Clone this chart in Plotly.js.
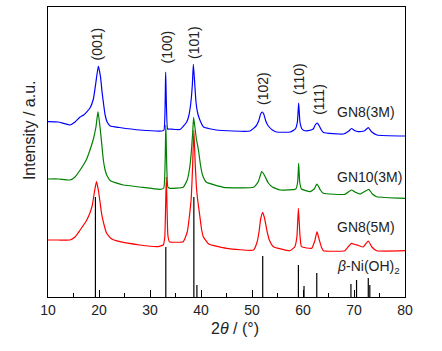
<!DOCTYPE html>
<html>
<head>
<meta charset="utf-8">
<script src="https://cdn.plot.ly/plotly-3.0.1.min.js"></script>
<style>html,body{margin:0;padding:0;background:#fff;}#chart{width:442px;height:351px;}</style>
</head>
<body>
<div id="chart"></div>
<script>
// GN8(3M) - blue (offset intensity, a.u.)
const blueX = [10, 12, 14.3, 15.3, 16.3, 17.0, 18.2, 18.9, 19.4, 19.87, 20.3, 20.6, 20.9, 21.2, 21.6, 22.2, 24, 28, 32.3, 32.75, 33.07, 33.45, 33.8, 35.9, 37.2, 37.6, 38.0, 38.3, 38.5, 38.75, 39.0, 39.3, 39.7, 40.5, 43, 49.6, 50.8, 51.3, 51.7, 52.0, 52.3, 52.7, 53.2, 54.0, 54.8, 57.5, 58.5, 58.9, 59.15, 59.4, 59.8, 60.2, 61.0, 62.0, 62.4, 62.8, 63.2, 63.6, 64.0, 67.9, 69.0, 69.5, 70.1, 70.8, 72.0, 72.8, 73.5, 74.5, 80];
const blueY = [175.3, 175, 172, 175, 180, 182, 188.7, 198, 215, 231, 220, 205, 193, 182, 175, 171, 169.5, 167, 166, 167, 225, 168, 168, 167.5, 175, 181, 194, 212, 232.7, 215, 196, 185, 178, 170, 167, 166, 171, 176, 183, 185, 183, 176, 171, 167, 165, 165, 168, 175, 194, 175, 168, 166.5, 166.3, 168, 172, 174, 171, 167, 164.5, 163, 166, 168.5, 166.5, 165.3, 166, 169.3, 165, 162, 161];

// GN10(3M) - green
const greenX = [10, 12, 14.3, 15.3, 16.3, 17.5, 18.3, 18.9, 19.4, 19.8, 20.2, 20.5, 20.85, 21.2, 21.6, 22.3, 24.8, 28, 32, 32.7, 33.1, 33.5, 33.9, 36.5, 37.3, 37.8, 38.1, 38.35, 38.55, 38.8, 39.1, 39.5, 39.9, 40.3, 41.0, 44.4, 50.3, 51.2, 51.6, 51.9, 52.3, 52.7, 53.2, 54, 55.5, 58.6, 58.95, 59.15, 59.35, 59.7, 61.4, 62.2, 62.5, 62.7, 63.0, 63.4, 64, 68.2, 69.5, 70.2, 71.2, 72.9, 73.6, 74.45, 80];
const greenY = [118, 118, 117, 120, 127, 137, 148, 158, 170, 185.3, 170, 155, 137, 127, 121, 116, 112, 110, 107.7, 109, 172, 110, 108.7, 109.7, 117, 130, 145, 163, 179.7, 170, 158, 147, 132, 122, 115, 109.7, 109.7, 115, 121, 125.3, 123, 119, 114, 110, 107, 108, 115, 133.7, 115, 108, 105.3, 108, 111, 113, 111, 107, 103.7, 102.7, 107, 105, 103, 107.7, 103, 100.3, 98.7];

// GN8(5M) - red
const redX = [10, 12, 14.3, 15.3, 16.3, 17.5, 18.2, 18.7, 19.1, 19.5, 19.9, 20.2, 20.5, 21.0, 21.5, 22.5, 24.1, 28, 31.3, 32.6, 32.9, 33.2, 33.5, 33.8, 36.5, 37.3, 37.8, 38.1, 38.35, 38.6, 38.85, 39.1, 39.4, 39.7, 40.1, 40.45, 41.5, 45, 50.3, 51.0, 51.4, 51.7, 52.1, 52.5, 52.9, 53.4, 54.2, 57.45, 58.4, 58.8, 59.1, 59.4, 59.7, 61.7, 62.3, 62.75, 63.2, 63.6, 64.0, 68.2, 69.0, 69.5, 70.2, 70.8, 71.8, 72.8, 73.5, 74.45, 80];
const redY = [57, 57, 57, 60, 67, 76, 83.7, 92, 105, 115.3, 106, 95, 83.7, 72, 63.7, 58, 55.3, 52, 50.3, 52, 60, 120, 62, 55.3, 55.3, 65, 84, 100, 130, 167, 135, 110, 95, 83.7, 68, 60.3, 53, 48.7, 47, 55, 66, 78, 84.7, 78, 67, 57, 50.3, 46.3, 50.3, 60, 88.7, 62, 50.3, 48.7, 56, 65.3, 57, 50, 46.3, 46.3, 51, 53.7, 52.5, 51.7, 50, 56, 50, 46.3, 46.3];

// beta-Ni(OH)2 reference lines
const refPos = [19.3, 33.1, 38.6, 39.2, 52.1, 59.1, 60.2, 62.7, 69.4, 70.5, 72.8, 73.1];
const refHeight = [100, 50, 100, 12, 41, 32, 11, 24, 13, 17, 19, 12];

// labels
const peakLabels = ["(001)", "(100)", "(101)", "(102)", "(110)", "(111)"];
const peakLabelX = [19.7, 33.14, 38.63, 52.16, 59.2, 63.1];
const peakLabelY = [253, 249.5, 254, 208, 218, 198];
const sampleNames = ["GN8(3M)", "GN10(3M)", "GN8(5M)", "<i>β</i>-Ni(OH)<sub>2</sub>"];
const sampleLabelY = [185.3, 120.3, 70.3, 30];

const stickX = [], stickY = [];
refPos.forEach((p, i) => { stickX.push(p, p, null); stickY.push(0, refHeight[i], null); });

const font = "Arial, 'Liberation Sans', sans-serif";
const lineShape = {shape: 'spline', smoothing: 0.4, width: 1.2};
const traces = [
  {x: stickX, y: stickY, mode: 'lines', line: {color: '#000', width: 1.2}, hoverinfo: 'skip'},
  {x: redX, y: redY, mode: 'lines', line: Object.assign({color: '#ff0000'}, lineShape)},
  {x: greenX, y: greenY, mode: 'lines', line: Object.assign({color: '#008000'}, lineShape)},
  {x: blueX, y: blueY, mode: 'lines', line: Object.assign({color: '#0000ff'}, lineShape)}
];

const annotations = [];
peakLabels.forEach((t, i) => annotations.push({
  x: peakLabelX[i], y: peakLabelY[i], xref: 'x', yref: 'y', text: t, showarrow: false,
  textangle: -90, font: {family: font, size: 14, color: '#222'}, xanchor: 'center', yanchor: 'middle'
}));
sampleNames.forEach((t, i) => annotations.push({
  x: 66.2, y: sampleLabelY[i], xref: 'x', yref: 'y', text: t, showarrow: false,
  font: {family: font, size: 14, color: '#222'}, xanchor: 'left', yanchor: 'middle'
}));
annotations.push({x: 0.524, y: -0.107, xref: 'paper', yref: 'paper', text: '2<i>θ</i> / (°)', showarrow: false,
  font: {family: font, size: 16, color: '#222'}, xanchor: 'center', yanchor: 'middle'});
annotations.push({x: -0.05, y: 0.576, xref: 'paper', yref: 'paper', text: 'Intensity / a.u.', showarrow: false,
  textangle: -90, font: {family: font, size: 16, color: '#222'}, xanchor: 'center', yanchor: 'middle'});

const layout = {
  width: 442, height: 351,
  margin: {l: 48, r: 37, t: 7, b: 54, pad: 0},
  paper_bgcolor: '#fff', plot_bgcolor: '#fff',
  showlegend: false,
  xaxis: {range: [10, 80], dtick: 10, tick0: 10, ticks: 'inside', ticklen: 7, tickcolor: '#000',
    minor: {dtick: 5, ticks: 'inside', ticklen: 4, tickcolor: '#000'},
    showline: true, linecolor: '#000', linewidth: 1, mirror: true, showgrid: false, zeroline: false,
    tickfont: {family: font, size: 14, color: '#222'}},
  yaxis: {range: [0, 290], showticklabels: false, ticks: '', showline: true, linecolor: '#000',
    linewidth: 1, mirror: true, showgrid: false, zeroline: false},
  annotations: annotations
};
Plotly.newPlot('chart', traces, layout, {staticPlot: true});
</script>
</body>
</html>
